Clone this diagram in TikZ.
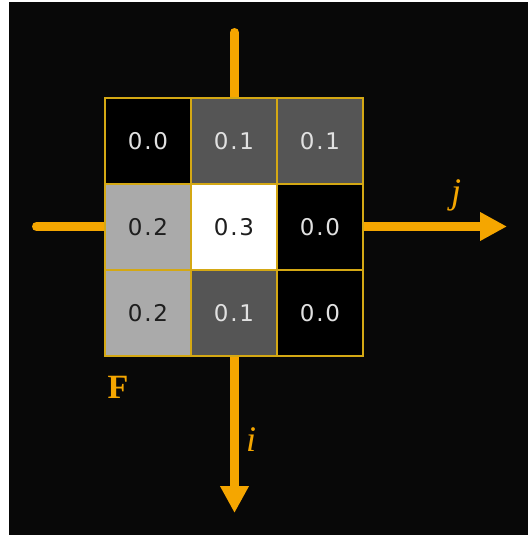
\documentclass[tikz,border=0pt]{standalone}
\usepackage{fontspec}
\setmainfont{Liberation Serif}
\newfontfamily\cellfont[LetterSpace=8]{DejaVu Sans}
\usetikzlibrary{arrows.meta}
\definecolor{axisorange}{RGB}{245,166,0}
\definecolor{gridgold}{RGB}{212,168,20}
\definecolor{bgblack}{RGB}{8,8,8}
\definecolor{lighttext}{RGB}{225,225,225}
\definecolor{darktext}{RGB}{30,30,30}
\tikzset{
  cell/.style={draw=gridgold, line width=1.5pt, minimum width=86pt, minimum height=86pt, inner sep=0pt, font=\cellfont\fontsize{23}{27}\selectfont},
  dcell/.style={cell, text=lighttext},
  lcell/.style={cell, text=darktext},
  axis/.style={draw=axisorange, line width=9pt, line cap=round, -{Triangle[width=27pt,length=27pt]}},
  axlabel/.style={text=axisorange, font=\fontsize{36}{40}\selectfont\itshape},
}
\begin{document}
\begin{tikzpicture}[x=1pt,y=-1pt]
\useasboundingbox (0,0) rectangle (528,535);
\fill[bgblack] (9,2) rectangle (528,535);
\coordinate (itop) at (234.5,32.5);
\coordinate (ibot) at (234.5,513);
\coordinate (jleft) at (36.5,226.5);
\coordinate (jright) at (507,226.5);
\draw[axis] (itop) -- (ibot);
\draw[axis] (jleft) -- (jright);
\node[dcell, fill=black] (c11) at (148,141) {0.0};
\node[dcell, fill={rgb,255:red,85;green,85;blue,85}] (c12) at (234,141) {0.1};
\node[dcell, fill={rgb,255:red,85;green,85;blue,85}] (c13) at (320,141) {0.1};
\node[lcell, fill={rgb,255:red,170;green,170;blue,170}] (c21) at (148,227) {0.2};
\node[lcell, fill=white] (c22) at (234,227) {0.3};
\node[dcell, fill=black] (c23) at (320,227) {0.0};
\node[lcell, fill={rgb,255:red,170;green,170;blue,170}] (c31) at (148,313) {0.2};
\node[dcell, fill={rgb,255:red,85;green,85;blue,85}] (c32) at (234,313) {0.1};
\node[dcell, fill=black] (c33) at (320,313) {0.0};
\node[text=axisorange, font=\fontsize{34}{38}\selectfont\bfseries] (F) at (118,387) {F};
\node[axlabel] (jl) at (456,195) {j};
\node[axlabel] (il) at (251,440) {i};
\end{tikzpicture}
\end{document}
